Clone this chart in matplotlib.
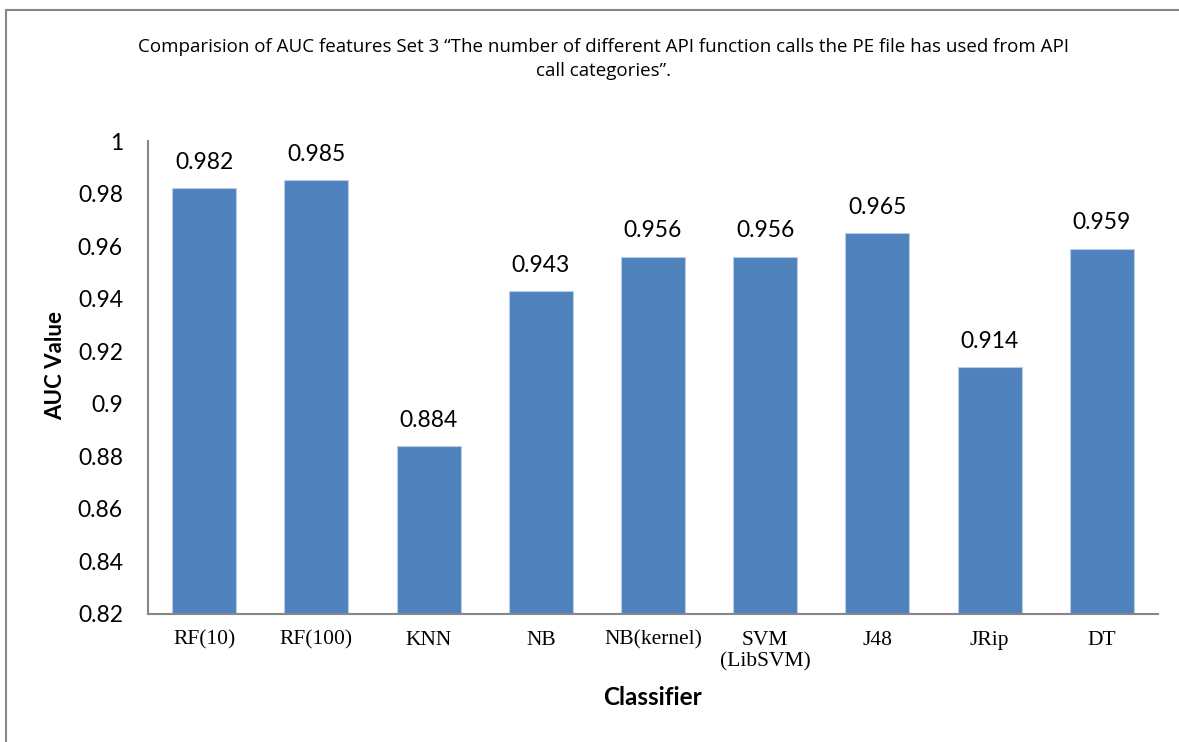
import matplotlib
matplotlib.use("Agg")
import matplotlib.pyplot as plt
from matplotlib.lines import Line2D

classifiers = ["RF(10)", "RF(100)", "KNN", "NB", "NB(kernel)", "SVM\n(LibSVM)", "J48", "JRip", "DT"]
auc_values = [0.982, 0.985, 0.884, 0.943, 0.956, 0.956, 0.965, 0.914, 0.959]
y_ticks = [0.82, 0.84, 0.86, 0.88, 0.9, 0.92, 0.94, 0.96, 0.98, 1]
y_tick_labels = ["0.82", "0.84", "0.86", "0.88", "0.9", "0.92", "0.94", "0.96", "0.98", "1"]

title = ("Comparision of AUC features Set 3 \u201cThe number of different API function calls the PE file has used from API\n"
         "call categories\u201d.")

bar_color = "#4F81BD"
axis_gray = "#868686"
sans = ["Lato", "DejaVu Sans"]
title_font = ["Open Sans", "DejaVu Sans"]
serif = ["Liberation Serif", "DejaVu Serif"]

fig = plt.figure(figsize=(11.79, 7.42), dpi=100)
ax = fig.add_axes([148 / 1179, 128 / 742, 1010 / 1179, 473 / 742])

x = range(len(classifiers))
bars = ax.bar(x, auc_values, width=0.57, color=bar_color,
              edgecolor="#B9CDE5", linewidth=0.8, zorder=2)

for xi, v in zip(x, auc_values):
    ax.annotate(f"{v:.3f}", (xi, v), xytext=(0, 11), textcoords="offset points",
                ha="center", va="bottom", fontsize=16.5, family=sans, color="black")

ax.set_ylim(0.82, 1.0)
ax.set_xlim(-0.5, len(classifiers) - 0.5)
ax.set_yticks(y_ticks)
ax.set_yticklabels(y_tick_labels, fontsize=16.5, family=sans)
ax.set_xticks(list(x))
ax.set_xticklabels(classifiers, fontsize=15.5, family=serif, linespacing=1.2)
ax.tick_params(axis="y", length=0, pad=18)
ax.tick_params(axis="x", length=0, pad=12)

for side in ("top", "right"):
    ax.spines[side].set_visible(False)
for side in ("left", "bottom"):
    ax.spines[side].set_color(axis_gray)
    ax.spines[side].set_linewidth(1.5)

ax.set_xlabel("Classifier", fontsize=17.5, fontweight="bold", family=sans, labelpad=10)
ax.set_ylabel("AUC Value", fontsize=16, fontweight="bold", family=sans)
ax.yaxis.set_label_coords(66 / 1179, 377 / 742, transform=fig.transFigure)

fig.text(604 / 1179, 1 - 59 / 742, title, ha="center", va="center",
         fontsize=13.5, family=title_font, linespacing=1.45)

# chart frame (left and top edges)
fig.add_artist(Line2D([6 / 1179, 6 / 1179], [0, 1 - 10 / 742], transform=fig.transFigure,
                      color=axis_gray, linewidth=1.5))
fig.add_artist(Line2D([6 / 1179, 1], [1 - 10 / 742, 1 - 10 / 742], transform=fig.transFigure,
                      color=axis_gray, linewidth=1.5))

fig.savefig("out.png", dpi=100)
